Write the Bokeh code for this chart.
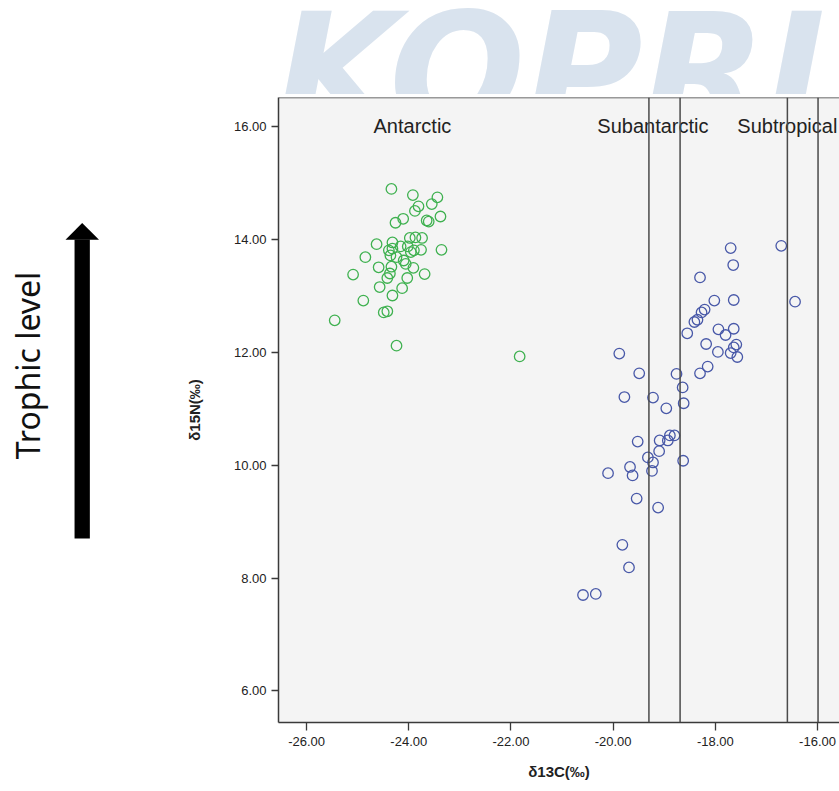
import math
from bokeh.plotting import figure
from bokeh.models import Range1d, FixedTicker, PrintfTickFormatter, Span
from bokeh.layouts import column, row
from bokeh.embed import file_html
from bokeh.resources import INLINE
from bokeh.core.properties import value

# ---------------- data ----------------
antarctic_d13c = [-24.34, -23.92, -23.44, -23.81, -23.88, -23.55, -23.38, -24.11, -24.26, -23.65,
                  -23.61, -24.63, -24.32, -23.98, -23.87, -23.74, -23.36, -24.39, -24.32, -24.16,
                  -24.02, -23.90, -23.76, -24.85, -24.36, -24.24, -23.96, -24.10, -24.59, -24.34,
                  -24.06, -25.09, -23.69, -23.91, -24.37, -24.42, -24.03, -24.57, -24.13, -24.32,
                  -24.89, -24.49, -24.42, -25.45, -24.24, -21.83]
antarctic_d15n = [14.90, 14.79, 14.75, 14.59, 14.51, 14.63, 14.41, 14.37, 14.30, 14.34,
                  14.32, 13.92, 13.95, 14.03, 14.04, 14.03, 13.82, 13.81, 13.84, 13.88,
                  13.88, 13.81, 13.82, 13.69, 13.72, 13.69, 13.78, 13.63, 13.51, 13.52,
                  13.57, 13.38, 13.39, 13.50, 13.40, 13.32, 13.32, 13.16, 13.14, 13.01,
                  12.92, 12.71, 12.73, 12.57, 12.12, 11.93]

northern_d13c = [-17.70, -16.71, -17.65, -18.30, -18.02, -17.64, -16.44, -18.21, -18.27, -18.35,
                 -18.41, -18.55, -17.94, -17.64, -17.80, -18.18, -17.59, -17.64, -17.95, -17.70,
                 -17.57, -19.88, -18.15, -18.30, -19.49, -18.76, -18.64, -19.78, -19.22, -18.62,
                 -18.96, -19.52, -19.09, -18.89, -18.80, -18.93, -19.10, -19.32, -19.22, -18.63,
                 -19.67, -19.62, -20.10, -19.24, -19.54, -19.12, -19.82, -19.69, -20.59, -20.34]
northern_d15n = [13.85, 13.89, 13.55, 13.33, 12.92, 12.93, 12.90, 12.76, 12.71, 12.58,
                 12.54, 12.34, 12.41, 12.42, 12.31, 12.15, 12.14, 12.09, 12.01, 11.99,
                 11.92, 11.98, 11.75, 11.63, 11.63, 11.62, 11.38, 11.21, 11.20, 11.10,
                 11.01, 10.42, 10.44, 10.53, 10.53, 10.44, 10.25, 10.14, 10.05, 10.08,
                 9.97, 9.82, 9.86, 9.90, 9.41, 9.25, 8.59, 8.19, 7.70, 7.72]

zone_boundaries = [-19.30, -18.69, -16.59, -15.99]
zone_names = ["Antarctic", "Subantarctic", "Subtropical"]
zone_label_x = [-24.69, -20.31, -17.57]
zone_label_y = [16.02, 16.02, 16.02]

x_ticks = [-26, -24, -22, -20, -18, -16]
y_ticks = [6, 8, 10, 12, 14, 16]

GREEN = "#3fb150"
BLUE = "#4858a8"
FRAME = "#3a3a3a"

# ---------------- watermark strip ----------------
top = figure(width=839, height=94, x_range=Range1d(0, 839), y_range=Range1d(0, 94),
             output_backend="svg", toolbar_location=None, min_border=0,
             x_axis_location=None, y_axis_location=None)
top.grid.visible = False
top.outline_line_color = None
top.background_fill_color = "white"
top.border_fill_color = "white"
top.text(x=[550], y=[22], text=["KOPRI"], text_font=value("DejaVu Sans"),
         text_font_style="bold italic", text_font_size="160px", text_color="#d9e3ee",
         text_align="center", text_baseline="alphabetic")

# ---------------- left annotation strip ----------------
# frame is aligned with the main plot frame (page y 97..722); data y = 791 - page y
left = figure(width=180, height=697, x_range=Range1d(0, 180), y_range=Range1d(69, 694),
              output_backend="svg", toolbar_location=None, min_border=0,
              x_axis_location=None, y_axis_location=None)
left.grid.visible = False
left.outline_line_color = None
left.background_fill_color = "white"
left.border_fill_color = "white"
left.rect(x=[81.7], y=[402.5], width=[15.3], height=[299], fill_color="black", line_color=None)
left.patch(x=[65, 98.5, 81.7], y=[551.7, 551.7, 568.5], fill_color="black", line_color=None)
left.text(x=[27], y=[426], text=["Trophic level"], angle=math.pi / 2,
          text_font=value("Noto Sans"), text_font_size="32px", text_color="#111111",
          text_align="center", text_baseline="middle")

# ---------------- main scatter ----------------
p = figure(width=659, height=697, x_range=Range1d(-26.55, -15.57), y_range=Range1d(5.44, 16.52),
           output_backend="svg", toolbar_location=None,
           min_border_left=98, min_border_right=0, min_border_top=3, min_border_bottom=69)
p.grid.visible = False
p.outline_line_color = None
p.background_fill_color = "#f4f4f4"
p.border_fill_color = "white"

for ax in (p.xaxis[0], p.yaxis[0]):
    ax.axis_line_color = FRAME
    ax.axis_line_width = 1.5
    ax.major_tick_line_color = FRAME
    ax.major_tick_line_width = 1.3
    ax.major_tick_in = 0
    ax.minor_tick_line_color = None
    ax.major_label_text_font = "Liberation Sans"
    ax.major_label_text_font_size = "13px"
    ax.major_label_text_color = "#222222"
    ax.axis_label_text_font = "Liberation Sans"
    ax.axis_label_text_font_size = "15px"
    ax.axis_label_text_font_style = "bold"
    ax.axis_label_text_color = "#222222"
    ax.formatter = PrintfTickFormatter(format="%.2f")

p.xaxis.ticker = FixedTicker(ticks=x_ticks)
p.yaxis.ticker = FixedTicker(ticks=y_ticks)
p.xaxis.major_tick_out = 8
p.yaxis.major_tick_out = 7
p.xaxis.major_label_standoff = 6
p.yaxis.major_label_standoff = 5
p.xaxis.axis_label = "δ13C(‰)"
p.yaxis.axis_label = "δ15N(‰)"
p.xaxis.axis_label_standoff = 14
p.yaxis.axis_label_standoff = 28

p.add_layout(Span(location=16.52, dimension="width", line_color=FRAME, line_width=1.5))

p.text(x=zone_label_x, y=zone_label_y, text=zone_names, text_font=value("Liberation Sans"),
       text_font_size="20px", text_color="#222222", text_align="left", text_baseline="middle")

for b in zone_boundaries:
    p.add_layout(Span(location=b, dimension="height", line_color="#4a4a4a", line_width=1.5))

p.scatter(antarctic_d13c, antarctic_d15n, marker="circle", size=10.5, fill_color=None,
          line_color=GREEN, line_width=1.3)
p.scatter(northern_d13c, northern_d15n, marker="circle", size=10.5, fill_color=None,
          line_color=BLUE, line_width=1.3)

layout = column(top, row(left, p, spacing=0), spacing=0)
open("out.html", "w").write(file_html(layout, INLINE))
